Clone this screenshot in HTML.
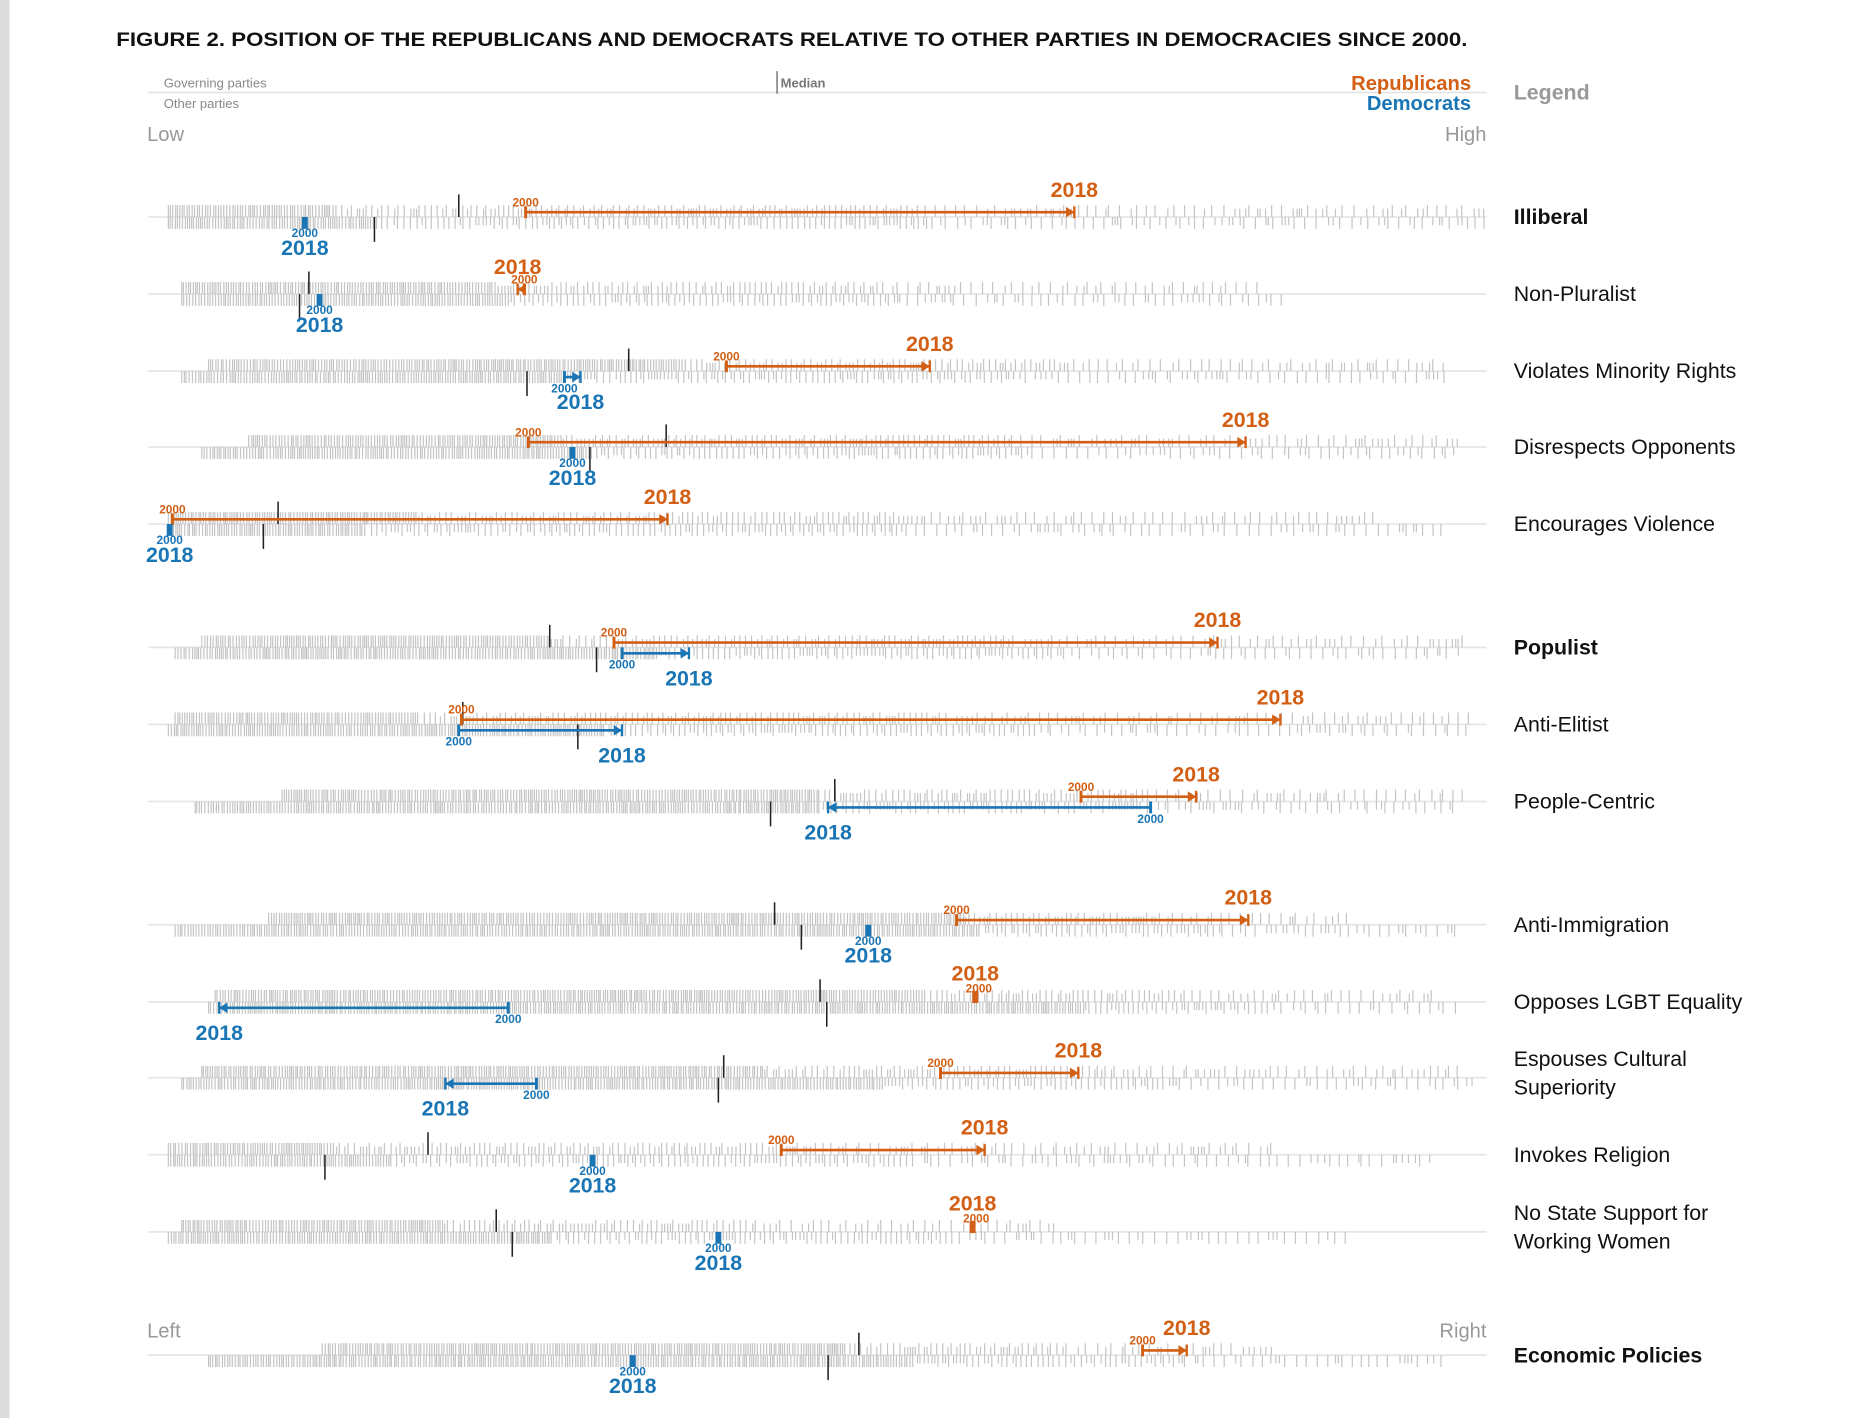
<!DOCTYPE html>
<html><head><meta charset="utf-8"><style>
html,body{margin:0;padding:0;background:#fff;}
svg{display:block;font-family:"Liberation Sans",sans-serif;}
</style></head><body>
<svg id="chart" width="1859" height="1418" viewBox="0 0 1567 1196" preserveAspectRatio="none" xmlns="http://www.w3.org/2000/svg">
<rect x="0" y="0" width="8" height="1196" fill="#dcdcdc"/>
<text x="98" y="39" font-size="16" font-weight="bold" fill="#111" textLength="1139" lengthAdjust="spacingAndGlyphs">FIGURE 2. POSITION OF THE REPUBLICANS AND DEMOCRATS RELATIVE TO OTHER PARTIES IN DEMOCRACIES SINCE 2000.</text>
<g>
<line x1="125" y1="78" x2="1253" y2="78" stroke="#e4e4e4" stroke-width="1.5"/>
<line x1="655" y1="60" x2="655" y2="79" stroke="#555" stroke-width="1"/>
<text x="138" y="74" font-size="11" fill="#888">Governing parties</text>
<text x="138" y="91" font-size="11" fill="#888">Other parties</text>
<text x="658" y="74" font-size="11" font-weight="bold" fill="#777">Median</text>
<text x="1240" y="76" font-size="17" font-weight="bold" fill="#d35f14" text-anchor="end">Republicans</text>
<text x="1240" y="93" font-size="17" font-weight="bold" fill="#1a75b5" text-anchor="end">Democrats</text>
<text x="1276" y="84" font-size="18" font-weight="bold" fill="#999">Legend</text>
</g>
<text x="124" y="119" font-size="17" fill="#999">Low</text>
<text x="1253" y="119" font-size="17" fill="#999" text-anchor="end">High</text>
<text x="124" y="1128" font-size="17" fill="#999">Left</text>
<text x="1253" y="1128" font-size="17" fill="#999" text-anchor="end">Right</text>
<g id="rows"></g>
</svg>
<script>
// data (positions on 0-100 scale from Low to High)
const categories = ["Illiberal","Non-Pluralist","Violates Minority Rights","Disrespects Opponents","Encourages Violence","Populist","Anti-Elitist","People-Centric","Anti-Immigration","Opposes LGBT Equality","Espouses Cultural|Superiority","Invokes Religion","No State Support for|Working Women","Economic Policies"];
const boldRows = [1,0,0,0,0,1,0,0,0,0,0,0,0,1];
const rep2000 = [28.2,28.1,43.2,28.4,1.8,34.8,23.4,69.7,60.4,61.8,59.2,47.3,61.6,74.3];
const rep2018 = [69.2,27.6,58.4,82.0,38.8,79.9,84.6,78.3,82.2,61.8,69.5,62.5,61.6,77.6];
const dem2000 = [11.7,12.8,31.1,31.7,1.6,35.4,23.2,74.9,53.8,26.9,29.0,33.2,42.6,36.2];
const dem2018 = [11.7,12.8,32.3,31.7,1.6,40.4,35.4,50.8,53.8,5.3,22.2,33.2,42.6,36.2];
const govMedian = [23.2,12.0,35.9,38.7,9.7,30.0,23.5,51.3,46.8,50.2,43.0,20.9,26.0,53.1];
const otherMedian = [16.9,11.3,28.3,33.0,8.6,33.5,32.1,46.5,48.8,50.7,42.6,13.2,27.2,50.8];
const govRange = [[1.5,14,100],[2.5,26,83],[4.5,40,97],[7.5,31,98],[1.5,20,92],[4,30,99],[2,20,99],[10,50,99],[9,61,90],[5,58,96],[4,46,98],[1.5,14,84],[2.5,22,68],[13,52,84]];
const otherRange = [[1.5,17,100],[2.5,27,85],[2.5,31,97],[4,33,98],[1.5,16,97],[2,38,98],[1.5,34,99],[3.5,50,98],[2,62,98],[4.5,70,98],[2.5,55,99],[1.5,18,96],[1.5,30,90],[4.5,57,97]];
const rowY = [183,248,313,377,442,546,611,676,780,845,909,974,1039,1143];

const X0=125, X1=1253;
const xs = v => X0 + (X1-X0)*v/100;
const NS="http://www.w3.org/2000/svg";
const OR="#d35f14", BL="#1a75b5";
const root=document.getElementById('rows');
function mk(tag,attrs,parent){const e=document.createElementNS(NS,tag);for(const k in attrs)e.setAttribute(k,attrs[k]);(parent||root).appendChild(e);return e;}
function hash(i,j){let h=(i*73856093)^(j*19349663);h=(h^(h>>>13))*1274126177;h=h^(h>>>16);return ((h>>>0)%1000)/1000;}

categories.forEach((cat,i)=>{
  const y=rowY[i];
  const g=mk('g',{});
  
  
  mk('line',{x1:X0,y1:y,x2:X1,y2:y,stroke:'#e6e6e6','stroke-width':1.5},g);
  [[govRange[i],-1],[otherRange[i],1]].forEach(([r,dir],k)=>{
    let x=xs(r[0]); const dense=xs(r[1]), end=xs(r[2]); let j=0;
    let d='';
    while(x<=end){
      const h=hash(i*2+k+1,j++);
      const len=(x<dense)?10:(h>0.5?10:7);
      d+=`M${x.toFixed(1)} ${y}V${y+dir*len}`;
      x+= x<dense ? 1.3+h*1.6 : 1.8+h*(x<(dense+end)/2?4:9);
    }
    const p=mk('path',{d:d,stroke:'#c4c4c4','stroke-width':1,fill:'none'},g);
    
    
  });
  const gm=mk('line',{x1:xs(govMedian[i]),y1:y-19,x2:xs(govMedian[i]),y2:y,stroke:'#222','stroke-width':1.3},g);
  
  
  const om=mk('line',{x1:xs(otherMedian[i]),y1:y,x2:xs(otherMedian[i]),y2:y+21,stroke:'#222','stroke-width':1.3},g);
  
  
  function party(a,b,col,dy,name,above){
    const yy=y+dy; const xa=xs(a), xb=xs(b);
    const pg=mk('g',{},g);
    
    
    if(Math.abs(xb-xa)<3){
      mk('rect',{x:xa-2.5,y:yy-5,width:5,height:10,fill:col},pg);
      if(above){
        mk('text',{x:xa,y:y-18,'font-size':18,'font-weight':'bold',fill:col,'text-anchor':'middle'},pg).textContent='2018';
        mk('text',{x:xa+3,y:y-8,'font-size':10,'font-weight':'bold',fill:col,'text-anchor':'middle'},pg).textContent='2000';
      } else {
        mk('text',{x:xa,y:y+17,'font-size':10,'font-weight':'bold',fill:col,'text-anchor':'middle'},pg).textContent='2000';
        mk('text',{x:xa,y:y+32,'font-size':18,'font-weight':'bold',fill:col,'text-anchor':'middle'},pg).textContent='2018';
      }
    } else {
      const s=xb>xa?1:-1;
      mk('line',{x1:xa,y1:yy,x2:xb,y2:yy,stroke:col,'stroke-width':2.2},pg);
      mk('line',{x1:xa,y1:yy-5,x2:xa,y2:yy+5,stroke:col,'stroke-width':2.5},pg);
      mk('line',{x1:xb,y1:yy-5,x2:xb,y2:yy+5,stroke:col,'stroke-width':2},pg);
      mk('path',{d:`M${xb} ${yy}L${xb-7*s} ${yy-4.5}L${xb-7*s} ${yy+4.5}Z`,fill:col},pg);
      if(above){
        mk('text',{x:xa,y:y-9,'font-size':10,'font-weight':'bold',fill:col,'text-anchor':'middle'},pg).textContent='2000';
        mk('text',{x:xb,y:y-17,'font-size':18,'font-weight':'bold',fill:col,'text-anchor':'middle'},pg).textContent='2018';
      } else {
        mk('text',{x:xa,y:y+18,'font-size':10,'font-weight':'bold',fill:col,'text-anchor':'middle'},pg).textContent='2000';
        mk('text',{x:xb,y:y+32,'font-size':18,'font-weight':'bold',fill:col,'text-anchor':'middle'},pg).textContent='2018';
      }
    }
  }
  party(rep2000[i],rep2018[i],OR,-4,'republicans-marker',true);
  party(dem2000[i],dem2018[i],BL,5,'democrats-marker',false);
  const lines=cat.split('|');
  const t=mk('text',{x:1276,'font-size':18,fill:'#111','font-weight':boldRows[i]?'bold':'normal'},g);
  
  
  if(lines.length===1){t.setAttribute('y',y+6);t.textContent=cat;}
  else lines.forEach((l,k)=>{const ts=mk('tspan',{x:1276,y:y-10+k*24},t);ts.textContent=l;});
});
</script>
</body></html>
